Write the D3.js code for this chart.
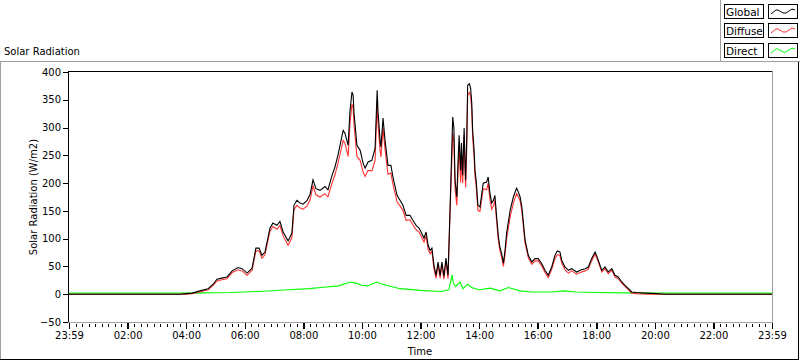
<!DOCTYPE html>
<html><head><meta charset="utf-8">
<script src="https://cdn.jsdelivr.net/npm/d3@7"></script>
<style>
html,body{margin:0;padding:0;background:#fff;}
svg{display:block;font-family:"DejaVu Sans",sans-serif;}
</style></head><body>
<svg id="c" width="800" height="361"></svg>
<script>
// ---- data (hours since 23:59 of the previous day) ----
const hours = [0,3.79,3.99,4.20,4.47,4.75,4.92,5.05,5.22,5.39,5.57,5.77,5.91,6.08,6.25,6.38,6.49,6.59,6.69,6.86,6.96,7.10,7.20,7.31,7.48,7.61,7.68,7.78,7.89,7.99,8.13,8.23,8.33,8.43,8.57,8.74,8.84,8.98,9.08,9.18,9.36,9.42,9.53,9.59,9.66,9.70,9.73,9.83,9.94,10.04,10.11,10.21,10.34,10.45,10.52,10.55,10.62,10.65,10.72,10.79,10.89,10.99,11.06,11.20,11.30,11.40,11.51,11.64,11.74,11.85,11.95,12.02,12.12,12.19,12.26,12.33,12.39,12.46,12.53,12.60,12.67,12.73,12.80,12.87,12.94,13.01,13.10,13.14,13.18,13.24,13.29,13.32,13.37,13.40,13.44,13.49,13.52,13.54,13.58,13.61,13.67,13.71,13.75,13.78,13.83,13.86,13.90,13.96,14.03,14.14,14.26,14.31,14.37,14.43,14.49,14.54,14.60,14.66,14.71,14.77,14.83,14.88,14.94,15.06,15.17,15.28,15.34,15.40,15.46,15.51,15.57,15.63,15.68,15.80,15.91,16.02,16.14,16.25,16.36,16.48,16.59,16.67,16.76,16.82,16.93,17.05,17.16,17.33,17.45,17.62,17.73,17.84,17.96,18.01,18.07,18.19,18.30,18.41,18.53,18.64,18.75,18.87,18.98,19.10,19.21,19.38,19.72,20.06,20.35,24];
const globalRad = [0,0,1,2,6,10,18,27,29,31,42,48,46,38,47,83,83,70,76,119,128,124,131,112,96,110,160,169,164,162,169,180,206,190,187,194,188,214,229,250,295,290,268,328,364,358,326,268,259,236,227,238,241,263,367,328,277,265,317,277,232,232,211,178,169,160,142,142,133,124,119,112,101,112,88,79,83,52,34,58,34,58,32,65,34,156,319,299,205,175,250,286,223,272,214,299,236,205,283,376,379,371,344,295,259,223,205,160,157,200,202,211,182,164,169,178,139,103,85,73,56,76,110,151,175,191,184,175,157,130,97,83,70,58,64,64,55,43,34,49,70,78,76,61,49,43,46,40,43,46,49,64,76,70,61,43,49,40,46,34,31,22,16,10,4,3,2,1,0,0];
const diffuseRad = [0,0,0,1,4,8,16,24,26,28,39,44,42,34,43,78,78,65,71,113,122,117,124,105,88,102,152,160,155,153,159,170,195,179,175,181,175,200,215,235,277,272,248,306,342,336,305,248,241,220,212,223,222,241,345,306,258,247,299,260,216,218,198,166,159,151,133,134,125,116,112,105,94,105,81,73,77,46,29,53,29,53,27,60,28,147,290,275,190,160,232,265,201,252,200,287,224,192,266,358,363,357,332,283,248,213,195,151,149,190,188,200,171,153,159,169,131,96,79,67,50,69,100,139,164,181,175,168,150,124,92,78,66,54,60,60,51,39,30,45,64,71,70,56,44,38,42,36,39,42,45,60,72,66,58,40,46,37,43,31,28,20,14,8,2,1,0,0,0,0];
const directHours = [0,4.3,4.6,5.5,6.5,7.5,8.2,8.6,9.2,9.6,9.8,10.0,10.2,10.5,10.7,11.0,11.3,12.0,12.7,12.97,13.08,13.12,13.2,13.35,13.45,13.6,13.75,14.0,14.4,14.7,15.0,15.4,15.8,16.5,16.9,17.3,18.0,19.0,19.5,24];
const directRad = [2,2,2.5,3,5,8,10,12,15,22,20,16,15,22,18,14,10,7,5,8,35,20,14,22,10,18,12,8,11,6,12,6,4,4,6,4,3,2.5,2,2];
const xTickHours = [0,2,4,6,8,10,12,14,16,18,20,22,24];
const xTickLabels = ["23:59","02:00","04:00","06:00","08:00","10:00","12:00","14:00","16:00","18:00","20:00","22:00","23:59"];
const yTicks = [-50,0,50,100,150,200,250,300,350,400];
const legendNames = ["Global","Diffuse","Direct"];
const seriesColors = ["#000000","#ff3030","#00ff00"];

// ---- drawing ----
const svg = d3.select("#c");
const GRAY = "#a0a0a0";
const x = d3.scaleLinear().domain([0,24]).range([69,772]);
const y = d3.scaleLinear().domain([-50,400]).range([322,72]);

function hline(x1,x2,yy,c){svg.append("line").attr("x1",x1).attr("x2",x2).attr("y1",yy).attr("y2",yy).attr("stroke",c).attr("shape-rendering","crispEdges");}
function vline(xx,y1,y2,c){svg.append("line").attr("x1",xx).attr("x2",xx).attr("y1",y1).attr("y2",y2).attr("stroke",c).attr("shape-rendering","crispEdges");}

// outer panel frame
hline(0,800,61.5,GRAY);
vline(0.5,61,360,GRAY);
vline(798.5,62,360,"#000");
hline(0,799,359.5,"#000");
vline(720.5,0,61,GRAY);

// title
svg.append("text").attr("x",4).attr("y",55).attr("font-size",10).attr("fill","#000").text("Solar Radiation");

// clip
svg.append("clipPath").attr("id","clip").append("rect").attr("x",69).attr("y",72).attr("width",703).attr("height",250);
const g = svg.append("g").attr("clip-path","url(#clip)");

const line = d3.line().x(d=>x(d[0])).y(d=>y(d[1]));
const direct = directHours.map((h,i)=>[h,directRad[i]]);
const diffuse = hours.map((h,i)=>[h,diffuseRad[i]]);
const glob = hours.map((h,i)=>[h,globalRad[i]]);
g.append("path").attr("d",line(direct)).attr("fill","none").attr("stroke",seriesColors[2]).attr("stroke-width",1.1);
g.append("path").attr("d",line(diffuse)).attr("fill","none").attr("stroke",seriesColors[1]).attr("stroke-width",1.1);
g.append("path").attr("d",line(glob)).attr("fill","none").attr("stroke",seriesColors[0]).attr("stroke-width",1.1);

// plot frame
hline(68,773,71.5,"#000");
vline(68.5,71,323,"#000");
vline(772.5,71,323,GRAY);
hline(68,773,322.5,GRAY);

// y axis
const yAxis = d3.axisLeft(y).tickValues(yTicks).tickSize(5).tickPadding(2).tickFormat(d3.format("d"));
const ya = svg.append("g").attr("transform","translate(68,0)").call(yAxis);
ya.select(".domain").remove();
ya.selectAll("line").attr("stroke","#000").attr("shape-rendering","crispEdges");
ya.selectAll("text").attr("font-size",10).attr("font-family","DejaVu Sans").attr("fill","#000");

// x axis minor ticks
const minor = [];
for(let i=0;i<12;i++){for(let k=1;k<9;k++){minor.push(i*2+k*2/9);}}
const xMinor = d3.axisBottom(x).tickValues(minor).tickSize(3).tickFormat("");
const xm = svg.append("g").attr("transform","translate(0,324)").call(xMinor);
xm.select(".domain").remove();
xm.selectAll("line").attr("stroke","#000").attr("shape-rendering","crispEdges");

const xMajor = d3.axisBottom(x).tickValues(xTickHours).tickSize(6).tickPadding(3).tickFormat((d,i)=>xTickLabels[i]);
const xa = svg.append("g").attr("transform","translate(0,323)").call(xMajor);
xa.select(".domain").remove();
xa.selectAll("line").attr("stroke","#000").attr("stroke-width",1.5).attr("shape-rendering","crispEdges");
xa.selectAll("text").attr("font-size",10).attr("font-family","DejaVu Sans").attr("fill","#000");

// axis titles
svg.append("text").attr("x",420).attr("y",355).attr("text-anchor","middle").attr("font-size",10).text("Time");
svg.append("text").attr("transform","translate(37,197) rotate(-90)").attr("text-anchor","middle").attr("font-size",10).text("Solar Radiation (W/m2)");

// legend
const rowsY = [4,23,43];
legendNames.forEach((name,i)=>{
  const y0 = rowsY[i];
  svg.append("rect").attr("x",724.5).attr("y",y0+0.5).attr("width",39).attr("height",14).attr("fill","#fff").attr("stroke","#000").attr("shape-rendering","crispEdges");
  svg.append("text").attr("x",726).attr("y",y0+12).attr("font-size",10.5).text(name);
  svg.append("rect").attr("x",768.5).attr("y",y0+0.5).attr("width",29).attr("height",14).attr("fill","#fff").attr("stroke","#000").attr("shape-rendering","crispEdges");
  const pts = [[771,y0+10],[776,y0+6],[778,y0+6],[783,y0+9],[786,y0+9],[792,y0+5],[795,y0+6]];
  svg.append("path").attr("d",d3.line()(pts)).attr("fill","none").attr("stroke",seriesColors[i]);
});
</script>
</body></html>
